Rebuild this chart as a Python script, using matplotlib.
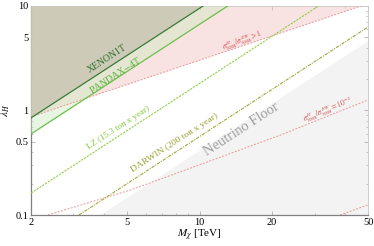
import matplotlib
matplotlib.use("Agg")
import matplotlib.pyplot as plt
from matplotlib.ticker import FixedLocator, NullFormatter, LogLocator

plt.rcParams['font.family'] = ['Liberation Serif', 'DejaVu Serif']
plt.rcParams['mathtext.fontset'] = 'stix'

# --- data ---
xenon_M = [2, 50]
xenon_L = [0.85, 106.0]
pandax_M = [2, 50]
pandax_L = [0.596, 74.5]
lz_M = [2, 50]
lz_L = [0.162, 20.3]
darwin_M = [3.16, 50]
darwin_L = [0.1, 6.29]
floor_M = [3.85, 50]
floor_L = [0.1, 4.68]
ratio1_M = [2, 50]
ratio1_L = [0.87, 10.5]
ratio2_M = [2.35, 5.15, 8.3, 21.6, 50]
ratio2_L = [0.1, 0.173, 0.258, 0.58, 1.26]
ratio3_M = [38.3, 50]
ratio3_L = [0.1, 0.125]

x_ticks = [2, 5, 10, 20, 50]
x_ticklabels = ['2', '5', '10', '20', '50']
y_ticks = [0.1, 0.5, 1, 5, 10]
y_ticklabels = ['0.1', '0.5', '1', '5', '10']

fig = plt.figure(figsize=(3.74, 2.46), dpi=100)
ax = fig.add_axes([0.083, 0.126, 0.901, 0.850])
ax.set_xscale('log')
ax.set_yscale('log')
ax.set_xlim(2, 50)
ax.set_ylim(0.1, 10)

# fills
ax.fill_between(floor_M, 0.1, floor_L, color='#f3f3f3', lw=0, zorder=1)
ax.fill_between(ratio1_M, ratio1_L, 1000, color=(0.94, 0.75, 0.75), alpha=0.45, lw=0, zorder=2)
ax.fill_between(pandax_M, pandax_L, 1000, color=(0.80, 0.92, 0.75), alpha=0.45, lw=0, zorder=3)
ax.fill_between(xenon_M, xenon_L, 1000, color=(0.79, 0.78, 0.70), alpha=0.85, lw=0, zorder=4)

# lines
ax.plot(xenon_M, xenon_L, color='#3a7a3a', lw=0.9, zorder=6)
ax.plot(pandax_M, pandax_L, color='#6cbf4a', lw=0.9, zorder=6)
ax.plot(lz_M, lz_L, color='#8fd048', lw=0.8, ls=(0, (2, 1)), zorder=6)
ax.plot(darwin_M, darwin_L, color='#a0a838', lw=0.8, ls=(0, (3, 1, 1, 1)), zorder=6)
for mm, ll in [(ratio1_M, ratio1_L), (ratio2_M, ratio2_L), (ratio3_M, ratio3_L)]:
    ax.plot(mm, ll, color='#e89898', lw=0.7, ls=(0, (2, 1.5)), zorder=5)

# labels
ax.text(4.13, 3.1, 'XENON1T', color='#2f6f2f', fontsize=7, rotation=33,
        ha='center', va='center', zorder=7)
ax.text(4.46, 2.2, 'PANDAX$-$4T', color='#5cb43c', fontsize=7, rotation=33,
        ha='center', va='center', zorder=7)
ax.text(4.59, 0.68, 'LZ (15.3 ton x year)', color='#86c83c', fontsize=6.5, rotation=33,
        ha='center', va='center', zorder=7)
ax.text(7.9, 0.489, 'DARWIN (200 ton x year)', color='#98a030', fontsize=6.8, rotation=33,
        ha='center', va='center', zorder=7)
ax.text(15.0, 0.665, 'Neutrino Floor', color='#a0a0a0', fontsize=10.5, rotation=33,
        ha='center', va='center', zorder=7)
ax.text(15.0, 4.72, r'$\sigma^{H}_{\rm SSB}/\sigma^{EW}_{\rm SSB} > 1$', color='#d05050',
        fontsize=5.5, rotation=20, ha='center', va='center', zorder=7)
ax.text(34.2, 1.01, r'$\sigma^{H}_{\rm SSB}/\sigma^{EW}_{\rm SSB} = 10^{-2}$', color='#d05050',
        fontsize=5.5, rotation=22, ha='center', va='center', zorder=7)

# axes styling
ax.xaxis.set_major_locator(FixedLocator(x_ticks))
ax.set_xticklabels(x_ticklabels)
ax.yaxis.set_major_locator(FixedLocator(y_ticks))
ax.set_yticklabels(y_ticklabels)
ax.xaxis.set_minor_locator(LogLocator(base=10, subs=range(1, 10)))
ax.yaxis.set_minor_locator(LogLocator(base=10, subs=range(1, 10)))
ax.xaxis.set_minor_formatter(NullFormatter())
ax.yaxis.set_minor_formatter(NullFormatter())
ax.tick_params(which='both', direction='in', top=True, right=True, colors='#b0b0b0',
               labelcolor='black', labelsize=7.5, pad=2)
ax.tick_params(which='major', length=3, width=0.6)
ax.tick_params(which='minor', length=1.5, width=0.5)
for side in ['left', 'bottom']:
    ax.spines[side].set_color('#808080')
    ax.spines[side].set_linewidth(0.9)
for side in ['top', 'right']:
    ax.spines[side].set_color('#c8c8c8')
    ax.spines[side].set_linewidth(0.6)

ax.set_xlabel(r'$M_\chi$ [TeV]', fontsize=8, labelpad=1)
ax.set_ylabel(r'$\lambda_H$', fontsize=8, labelpad=2)

fig.savefig('out.png', dpi=100)
